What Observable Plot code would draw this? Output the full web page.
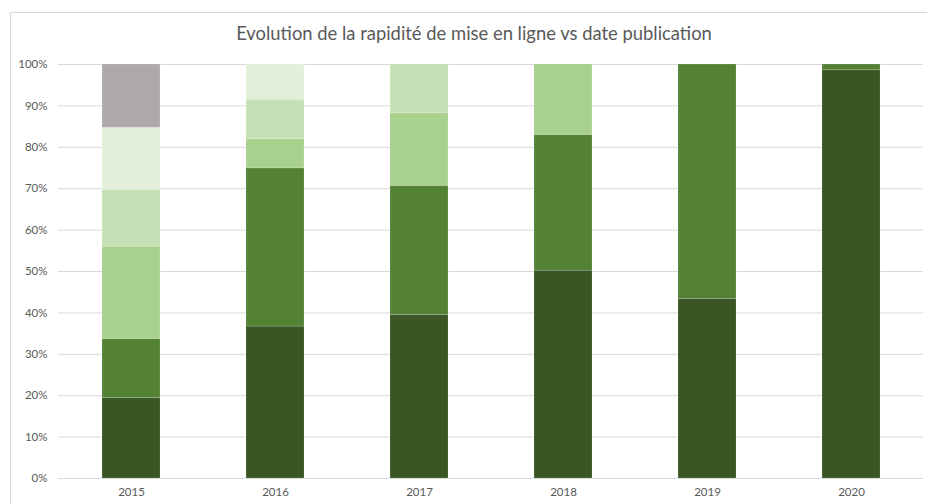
<!DOCTYPE html>
<html>
<head>
<meta charset="utf-8">
<script src="https://cdn.jsdelivr.net/npm/d3@7"></script>
<script src="https://cdn.jsdelivr.net/npm/@observablehq/plot@0.6"></script>
<style>
  html, body { margin: 0; padding: 0; background: #fff; }
  #wrap { position: relative; width: 927px; height: 504px; overflow: hidden; }
  #frame { position: absolute; left: 10px; top: 12px; width: 930px; height: 600px; border-left: 1px solid #d9d9d9; border-top: 1px solid #d9d9d9; pointer-events: none; }
  #title { position: absolute; left: 0; width: 948px; top: 22px; text-align: center; font-family: Lato, "Open Sans", sans-serif; font-size: 18.4px; color: #595959; white-space: nowrap; }
  #chart { position: absolute; left: 0; top: 0; }
</style>
</head>
<body>
<div id="wrap">
  <div id="chart"></div>
  <div id="frame"></div>
  <div id="title">Evolution de la rapidité de mise en ligne vs date publication</div>
</div>
<script>
const years = ["2015", "2016", "2017", "2018", "2019", "2020"];
const categories = ["Catégorie 1", "Catégorie 2", "Catégorie 3", "Catégorie 4", "Catégorie 5", "Catégorie 6"];
const colors = ["#3a5624", "#548235", "#a9d18e", "#c5e0b4", "#e2f0d9", "#aeaaaa"];
// share (%) of each category per year, bottom to top
const serie1 = [19.4, 36.7, 39.5, 50.2, 43.4, 98.6];
const serie2 = [14.3, 38.2, 31.2, 32.8, 56.6, 1.4];
const serie3 = [22.3, 7.1, 17.5, 17.0, 0, 0];
const serie4 = [13.7, 9.5, 11.8, 0, 0, 0];
const serie5 = [15.0, 8.5, 0, 0, 0, 0];
const serie6 = [15.3, 0, 0, 0, 0, 0];
const yTicks = [0, 0.1, 0.2, 0.3, 0.4, 0.5, 0.6, 0.7, 0.8, 0.9, 1];

const series = [serie1, serie2, serie3, serie4, serie5, serie6];
const data = [];
years.forEach((y, i) => {
  series.forEach((s, k) => {
    data.push({year: y, category: categories[k], value: s[i]});
  });
});

const chart = Plot.plot({
  width: 927,
  height: 504,
  marginLeft: 58,
  marginRight: 4,
  marginTop: 64,
  marginBottom: 26,
  style: {fontFamily: "Lato, 'Open Sans', sans-serif", fontSize: "11.5px", color: "#595959", background: "transparent"},
  x: {domain: years, paddingInner: 0.6, paddingOuter: 0.3, align: 0.5, label: null, tickSize: 0, tickPadding: 9},
  y: {domain: [0, 1], ticks: yTicks, tickFormat: d3.format(".0%"), label: null, tickSize: 0, tickPadding: 11},
  color: {domain: categories, range: colors},
  marks: [
    Plot.gridY(yTicks, {stroke: "#d9d9d9", strokeOpacity: 1, strokeWidth: 1}),
    Plot.barY(data, Plot.stackY({
      x: "year",
      y: "value",
      fill: "category",
      order: categories,
      offset: "normalize",
      stroke: "#ffffff",
      strokeOpacity: 0.25,
      strokeWidth: 0.6
    }))
  ]
});
document.getElementById("chart").appendChild(chart);
</script>
</body>
</html>
